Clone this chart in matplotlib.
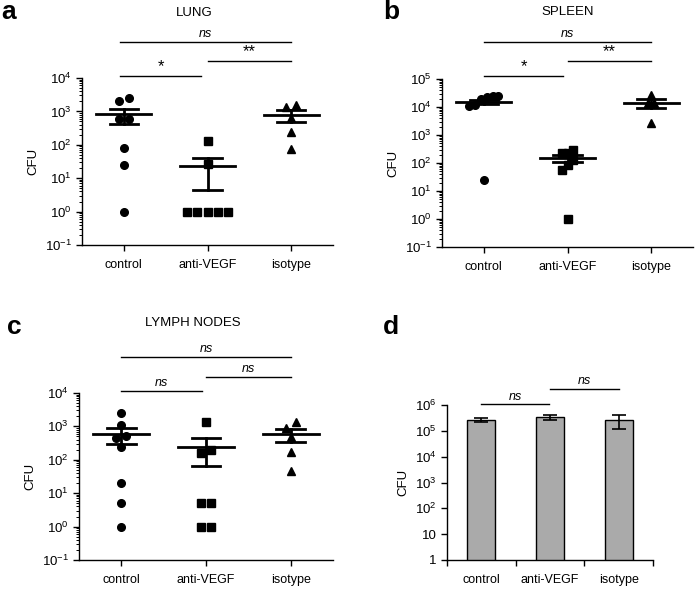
import numpy as np
import matplotlib
matplotlib.use("Agg")
import matplotlib.pyplot as plt
from matplotlib.ticker import LogLocator, FixedLocator, FuncFormatter, NullFormatter

plt.rcParams['font.family'] = ['Liberation Sans', 'DejaVu Sans']
plt.rcParams['mathtext.default'] = 'regular'
plt.rcParams['axes.unicode_minus'] = False
plt.rcParams['axes.linewidth'] = 1.0

groups = ["control", "anti-VEGF", "isotype"]

# CFU per animal
lung_control = [2000, 2570, 600, 600, 80, 25, 1]
lung_antivegf = [130, 27, 1, 1, 1, 1, 1]
lung_isotype = [1585, 1400, 650, 250, 76]
lung_mean = [813, 23, 794]
lung_sem = [400, 18.5, 320]

spleen_control = [22000, 25000, 25000, 20000, 12000, 11000, 25]
spleen_antivegf = [290, 230, 230, 128, 85, 56, 1]
spleen_isotype = [27000, 14000, 14000, 2700]
spleen_mean = [15500, 150, 14000]
spleen_sem = [3000, 40, 5000]

lymph_control = [2500, 1100, 500, 450, 250, 20, 5, 1]
lymph_antivegf = [1350, 200, 160, 5, 5, 1, 1]
lymph_isotype = [1350, 900, 480, 170, 46]
lymph_mean = [600, 250, 600]
lymph_sem = [310, 185, 250]

d_mean = [263000, 333000, 263000]
d_sem = [50000, 70000, 150000]

W, H = 697, 589
fig = plt.figure(figsize=(W / 100, H / 100), dpi=100)


def box(left, top, right, bottom):
    return [left / W, 1 - bottom / H, (right - left) / W, (bottom - top) / H]


def swarm(vals, dx, thr):
    # spread points that sit at nearly the same height into a row
    logv = np.log10(vals)
    order = np.argsort(logv)
    offs = np.zeros(len(vals))
    rows, cur = [], [order[0]]
    for i in order[1:]:
        if logv[i] - logv[cur[-1]] < thr:
            cur.append(i)
        else:
            rows.append(cur)
            cur = [i]
    rows.append(cur)
    for r in rows:
        n = len(r)
        for k, i in enumerate(r):
            offs[i] = (k - (n - 1) / 2) * dx
    return offs


def style(ax):
    for s in ['top', 'right']:
        ax.spines[s].set_visible(False)
    ax.tick_params(axis='both', which='major', length=4, width=1, labelsize=9, direction='out')
    ax.tick_params(axis='y', labelsize=9.5)
    ax.tick_params(axis='x', pad=6)
    ax.tick_params(axis='y', which='minor', length=2, width=0.7)
    ax.set_ylabel("CFU", fontsize=9.5)


def sig(ax, x0, x1, yfrac, text, size=9, italic=False):
    tr = ax.get_xaxis_transform()
    ax.plot([x0, x1], [yfrac, yfrac], color='black', lw=1.0, transform=tr, clip_on=False)
    ax.text((x0 + x1) / 2, yfrac + 0.01, text, transform=tr, ha='center', va='bottom',
            fontsize=size, style='italic' if italic else 'normal')


def dot_panel(ax, data, means, sems, ymin, ymax, dx, thr):
    markers = ['o', 's', '^']
    for i, vals in enumerate(data):
        offs = swarm(vals, dx, thr)
        ax.plot(i + offs, vals, linestyle='none', marker=markers[i], ms=5.5,
                color='black', mec='black', clip_on=False, zorder=3)
        ax.plot([i - 0.33, i + 0.33], [means[i], means[i]], color='black', lw=2.0, zorder=4)
        lo, hi = means[i] - sems[i], means[i] + sems[i]
        ax.plot([i - 0.17, i + 0.17], [hi, hi], color='black', lw=2.0, zorder=4)
        ax.plot([i - 0.17, i + 0.17], [lo, lo], color='black', lw=2.0, zorder=4)
        ax.plot([i, i], [lo, hi], color='black', lw=2.0, zorder=4)
    ax.set_yscale('log')
    ax.set_ylim(ymin, ymax)
    ax.set_xlim(-0.5, 2.5)
    ax.set_xticks(range(3))
    ax.set_xticklabels(groups)
    ax.yaxis.set_major_locator(LogLocator(base=10, numticks=20))
    ax.yaxis.set_minor_locator(LogLocator(base=10, subs=np.arange(2, 10), numticks=20))
    ax.yaxis.set_minor_formatter(NullFormatter())
    style(ax)


# a - lung
ax_a = fig.add_axes(box(82, 78, 333, 245))
dot_panel(ax_a, [lung_control, lung_antivegf, lung_isotype], lung_mean, lung_sem, 0.1, 1e4, 0.12, 0.2)
sig(ax_a, -0.04, 2, 1.216, "ns", italic=True)
sig(ax_a, 1, 2, 1.102, "**", size=12)
sig(ax_a, -0.04, 0.92, 1.012, "*", size=12)

# b - spleen
ax_b = fig.add_axes(box(442, 79, 693, 247))
dot_panel(ax_b, [spleen_control, spleen_antivegf, spleen_isotype], spleen_mean, spleen_sem, 0.1, 1e5, 0.07, 0.25)
sig(ax_b, 0, 2, 1.22, "ns", italic=True)
sig(ax_b, 1, 2, 1.107, "**", size=12)
sig(ax_b, 0, 0.95, 1.018, "*", size=12)

# c - lymph nodes
ax_c = fig.add_axes(box(79, 393, 333, 560))
dot_panel(ax_c, [lymph_control, lymph_antivegf, lymph_isotype], lymph_mean, lymph_sem, 0.1, 1e4, 0.12, 0.2)
sig(ax_c, 0, 2, 1.216, "ns", italic=True)
sig(ax_c, 1, 2, 1.096, "ns", italic=True)
sig(ax_c, 0, 0.95, 1.012, "ns", italic=True)

# d - bars
ax_d = fig.add_axes(box(447, 405, 653, 560))
ax_d.bar(range(3), d_mean, width=0.41, color='#aaaaaa', edgecolor='black', linewidth=1.0, zorder=2)
ax_d.errorbar(range(3), d_mean, yerr=d_sem, fmt='none', ecolor='black', elinewidth=1.2,
              capsize=5, capthick=1.2, zorder=3)
ax_d.set_yscale('log')
ax_d.set_ylim(1, 1e6)
ax_d.set_xlim(-0.5, 2.5)
ax_d.yaxis.set_major_locator(FixedLocator([10.0 ** k for k in range(7)]))
ax_d.yaxis.set_minor_locator(FixedLocator([]))


def dfmt(v, pos):
    k = int(round(np.log10(v)))
    if k == 0:
        return "1"
    if k == 1:
        return "10"
    return "$10^{%d}$" % k


ax_d.yaxis.set_major_formatter(FuncFormatter(dfmt))
ax_d.set_xticks([-0.5, 0.5, 1.5, 2.5])
ax_d.set_xticklabels([])
ax_d.set_xticks(range(3), minor=True)
ax_d.set_xticklabels(groups, minor=True)
style(ax_d)
ax_d.tick_params(axis='x', which='minor', length=0, labelsize=9, pad=10)
sig(ax_d, 0, 0.98, 1.006, "ns", italic=True)
sig(ax_d, 1, 2, 1.103, "ns", italic=True)

# titles and panel letters
fig.text(194 / W, 1 - 13 / H, "LUNG", ha='center', va='center', fontsize=9.5)
fig.text(568 / W, 1 - 12 / H, "SPLEEN", ha='center', va='center', fontsize=9.5)
fig.text(193 / W, 1 - 323 / H, "LYMPH NODES", ha='center', va='center', fontsize=9.5)
for letter, x, y in [("a", 9, 12), ("b", 391, 12), ("c", 14, 327), ("d", 391, 327)]:
    fig.text(x / W, 1 - y / H, letter, ha='center', va='center', fontsize=19, fontweight='bold')

fig.savefig("out.png", dpi=100)
